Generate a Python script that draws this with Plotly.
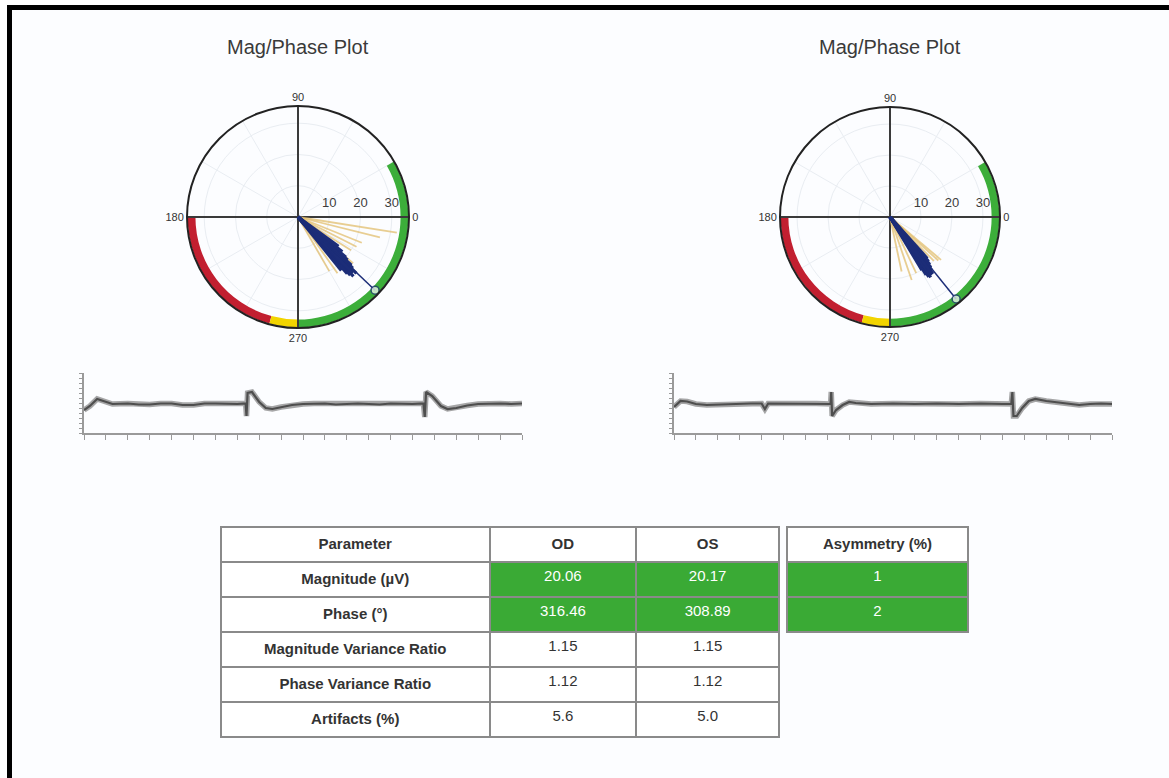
import plotly.graph_objects as go

W, H = 1169, 778

# ---------------- summary values per eye ----------------
eyes = ["OD", "OS"]
magnitude = [20.06, 20.17]
phase = [316.46, 308.89]
mag_var_ratio = [1.15, 1.15]
phase_var_ratio = [1.12, 1.12]
artifacts = [5.6, 5.0]
asymmetry = [1, 2]

param_labels = ["Magnitude (µV)", "Phase (°)", "Magnitude Variance Ratio",
                "Phase Variance Ratio", "Artifacts (%)"]

# ---------------- individual sweeps (µV, degrees) ----------------
od_sweep_mag = [22, 24, 25, 26, 24, 25, 23, 26, 22, 24, 23, 21, 20, 18, 16, 25, 24, 23]
od_sweep_phase = [309, 311, 312, 313, 314, 315, 315.5, 316, 316.5, 317, 318, 319, 320, 322, 324,
                  313.5, 314.5, 317.5]
od_reject_mag = [32, 27, 22, 21, 20, 23, 22, 20]
od_reject_phase = [351, 346, 338, 333, 328, 320, 305, 300]

os_sweep_mag = [20, 22, 23, 23.5, 23, 22, 23, 22, 21, 20, 19, 18, 23, 22.5]
os_sweep_phase = [301, 302, 303, 304, 305, 306, 307, 308, 309, 310, 311, 312, 304.5, 306.5]
os_reject_mag = [21.5, 21, 20, 18, 21.5, 20]
os_reject_phase = [320, 318, 315, 282, 289, 295]

# ---------------- phase ring zones (degrees) ----------------
zone_start = [270, 180, 255]
zone_end = [390, 255, 270]
zone_color = ["#3cae3a", "#c21f30", "#f2d400"]

# ---------------- averaged waveforms ----------------
od_wave_t = [0, 0.27, 0.6, 0.9, 1.3, 2.0, 2.5, 3.0, 3.5, 4.0, 4.5, 5.0, 5.5, 6.0, 6.5, 7.0,
             7.38, 7.42, 7.47, 7.67, 8.0, 8.3, 8.6, 9.0, 9.5, 10, 10.5, 11, 11.5, 12, 12.5,
             13, 13.5, 14, 14.5, 15, 15.5, 15.56, 15.62, 15.9, 16.3, 16.6, 17.0, 17.5, 18,
             18.5, 19, 19.5, 20]
od_wave_v = [-6, -2, 5, 3, 0, 0.5, -0.5, -0.5, 0.5, 0.5, -1, -1, 0.5, 0.5, 0, 0,
             0.5, -12, 11, 12, 2, -4, -5, -3, -1, 0, 0.5, 0.5, -0.5, 0, 0.5,
             0, -0.5, 0.5, 0, 0, 0.5, -13, 12, 8, -2, -5, -4, -1.5, 0,
             0.5, 0.5, 0, 0.5]

os_wave_t = [0, 0.3, 0.6, 1.0, 1.5, 2.0, 3.0, 3.5, 4.0, 4.15, 4.3, 5.0, 5.5, 6.0, 6.5, 7.0,
             7.15, 7.18, 7.22, 7.4, 7.7, 8.0, 8.3, 9.0, 10, 11, 12, 13, 14, 15, 15.4,
             15.45, 15.5, 15.65, 15.9, 16.2, 16.5, 17.0, 17.5, 18, 18.5, 19, 19.5, 20]
os_wave_v = [-3, 3, 2.5, 0, -1, -0.5, 0, 0.5, 0.5, -5, 0.5, 0.5, 0, 0.5, 0.5, 0,
             0, 12, -12, -6, -1, 2, 1, 0, 0.5, 0, 0.5, 0, 0.5, 0, 0,
             12, -12, -12, -4, 3, 5, 3, 1.5, 0.5, -1, 0, 0.5, 0]

FONT = "Liberation Sans, Arial, sans-serif"
R_MAX = 35.5
BAND_BASE, BAND_W = 32.8, 2.5
NAVY = "#1c2d78"
TAN = "rgba(226,190,110,0.75)"


def px_x(x):
    return x / W


def px_y(y):
    return 1 - y / H


def spokes(mags, phases):
    r, th = [], []
    for m, p in zip(mags, phases):
        r += [0, m, None]
        th += [p, p, None]
    return r, th


fig = go.Figure()

sweeps = [(od_sweep_mag, od_sweep_phase, od_reject_mag, od_reject_phase),
          (os_sweep_mag, os_sweep_phase, os_reject_mag, os_reject_phase)]

for i, (sm, sp, rm, rp) in enumerate(sweeps):
    sub = "polar" if i == 0 else "polar2"
    # phase ring zones
    for a, b, c in zip(zone_start, zone_end, zone_color):
        fig.add_trace(go.Barpolar(r=[BAND_W], base=[BAND_BASE], theta=[(a + b) / 2],
                                  width=[b - a], marker_color=c, marker_line_width=0,
                                  subplot=sub, showlegend=False, hoverinfo="skip"))
    # crosshair
    fig.add_trace(go.Scatterpolar(r=[R_MAX, 0, R_MAX, None, R_MAX, 0, R_MAX],
                                  theta=[0, 0, 180, None, 90, 90, 270],
                                  mode="lines", line=dict(color="#3a3a3a", width=2),
                                  subplot=sub, showlegend=False, hoverinfo="skip"))
    # rejected sweeps
    r, th = spokes(rm, rp)
    fig.add_trace(go.Scatterpolar(r=r, theta=th, mode="lines",
                                  line=dict(color=TAN, width=1.8),
                                  subplot=sub, showlegend=False, hoverinfo="skip"))
    # accepted sweeps
    r, th = spokes(sm, sp)
    fig.add_trace(go.Scatterpolar(r=r, theta=th, mode="lines",
                                  line=dict(color=NAVY, width=3.2),
                                  subplot=sub, showlegend=False, hoverinfo="skip"))
    # mean phase vector
    fig.add_trace(go.Scatterpolar(r=[0, 34.0], theta=[phase[i], phase[i]], mode="lines+markers",
                                  line=dict(color=NAVY, width=1.5),
                                  marker=dict(size=[0, 8], color="white",
                                              line=dict(color=NAVY, width=1.5)),
                                  subplot=sub, showlegend=False, hoverinfo="skip"))

# waveforms
waves = [(od_wave_t, od_wave_v), (os_wave_t, os_wave_v)]
for i, (t, v) in enumerate(waves):
    xa = "x" if i == 0 else "x2"
    ya = "y" if i == 0 else "y2"
    fig.add_trace(go.Scatter(x=t, y=v, mode="lines", xaxis=xa, yaxis=ya,
                             line=dict(color="rgba(95,95,95,0.55)", width=5.5),
                             showlegend=False, hoverinfo="skip"))
    fig.add_trace(go.Scatter(x=t, y=v, mode="lines", xaxis=xa, yaxis=ya,
                             line=dict(color="#4e4e4e", width=2.2),
                             showlegend=False, hoverinfo="skip"))

# results table
GREEN = "#3aaa35"
od_vals = [f"{magnitude[0]:.2f}", f"{phase[0]:.2f}", f"{mag_var_ratio[0]:.2f}",
           f"{phase_var_ratio[0]:.2f}", f"{artifacts[0]:.1f}"]
os_vals = [f"{magnitude[1]:.2f}", f"{phase[1]:.2f}", f"{mag_var_ratio[1]:.2f}",
           f"{phase_var_ratio[1]:.2f}", f"{artifacts[1]:.1f}"]
val_fill = [GREEN, GREEN, "white", "white", "white"]
val_font = ["white", "white", "#333333", "#333333", "#333333"]
LINE = dict(color="#8a8a8a", width=2)

fig.add_trace(go.Table(
    domain=dict(x=[px_x(221), px_x(780)], y=[px_y(760), px_y(527)]),
    columnwidth=[269, 147, 143],
    header=dict(values=["<b>Parameter</b>"] + [f"<b>{e}</b>" for e in eyes],
                fill_color="white", line=LINE,
                font=dict(family=FONT, size=15, color="#333333"),
                align="center", height=35),
    cells=dict(values=[[f"<b>{p}</b>" for p in param_labels], od_vals, os_vals],
               fill_color=[["white"] * 5, val_fill, val_fill],
               line=LINE,
               font=dict(family=FONT, size=15, color=[["#333333"] * 5, val_font, val_font]),
               align="center", height=35)))

fig.add_trace(go.Table(
    domain=dict(x=[px_x(787), px_x(968)], y=[px_y(650), px_y(527)]),
    header=dict(values=["<b>Asymmetry (%)</b>"], fill_color="white", line=LINE,
                font=dict(family=FONT, size=15, color="#333333"),
                align="center", height=35),
    cells=dict(values=[[str(a) for a in asymmetry]], fill_color=GREEN, line=LINE,
               font=dict(family=FONT, size=15, color="white"),
               align="center", height=35)))

# polar axes
ang_text = ["0", "", "", "90", "", "", "180", "", "", "270", "", ""]


def polar_layout(cx, cy, rad):
    return dict(
        domain=dict(x=[px_x(cx - rad), px_x(cx + rad)], y=[px_y(cy + rad), px_y(cy - rad)]),
        bgcolor="rgba(0,0,0,0)",
        angularaxis=dict(rotation=0, direction="counterclockwise",
                         tickvals=list(range(0, 360, 30)), ticktext=ang_text,
                         showline=True, linecolor="#222222", linewidth=2,
                         gridcolor="#e9edf2", gridwidth=1, ticks="",
                         tickfont=dict(family=FONT, size=11, color="#333333")),
        radialaxis=dict(range=[0, R_MAX], tickvals=[10, 20, 30], angle=0,
                        side="counterclockwise", showline=False, ticks="outside",
                        ticklen=4, tickcolor="rgba(0,0,0,0)",
                        gridcolor="#e9edf2", gridwidth=1, tickangle=0,
                        tickfont=dict(family=FONT, size=13, color="#3c3c3c")),
    )


def wave_axes(x0, x1):
    xa = dict(domain=[px_x(x0), px_x(x1)], range=[0, 20], dtick=1, tick0=0,
              showticklabels=False, ticks="outside", ticklen=5, tickcolor="#9a9a9a",
              showline=True, linecolor="#9a9a9a", linewidth=1.5, showgrid=False,
              zeroline=False, fixedrange=True)
    ya = dict(domain=[px_y(433), px_y(373)], range=[-29, 31], dtick=5, tick0=-29,
              showticklabels=False, ticks="outside", ticklen=3, tickcolor="#9a9a9a",
              showline=True, linecolor="#9a9a9a", linewidth=1.5, showgrid=False,
              zeroline=False, fixedrange=True)
    return xa, ya


xa1, ya1 = wave_axes(84, 522)
xa2, ya2 = wave_axes(674, 1112)
xa1["anchor"] = "y"
ya1["anchor"] = "x"
xa2["anchor"] = "y2"
ya2["anchor"] = "x2"

shapes = [
    dict(type="rect", xref="paper", yref="paper", x0=px_x(12), x1=1, y0=0, y1=px_y(10),
         fillcolor="#fcfdff", line_width=0, layer="below"),
    dict(type="rect", xref="paper", yref="paper", x0=px_x(7), x1=px_x(12), y0=0, y1=px_y(5),
         fillcolor="#000000", line_width=0),
    dict(type="rect", xref="paper", yref="paper", x0=px_x(7), x1=1, y0=px_y(10), y1=px_y(5),
         fillcolor="#000000", line_width=0),
]

titles = [dict(text="Mag/Phase Plot", x=px_x(cx), y=px_y(47), xref="paper", yref="paper",
               showarrow=False, xanchor="center", yanchor="middle",
               font=dict(family=FONT, size=20, color="#3a3a3a")) for cx in (298, 890)]

fig.update_layout(
    width=W, height=H, margin=dict(l=0, r=0, t=0, b=0),
    paper_bgcolor="white", plot_bgcolor="rgba(0,0,0,0)",
    polar=polar_layout(298, 217, 111),
    polar2=polar_layout(890, 217, 110),
    xaxis=xa1, yaxis=ya1, xaxis2=xa2, yaxis2=ya2,
    shapes=shapes, annotations=titles,
    font=dict(family=FONT), showlegend=False,
)

fig.write_html("out.html")
